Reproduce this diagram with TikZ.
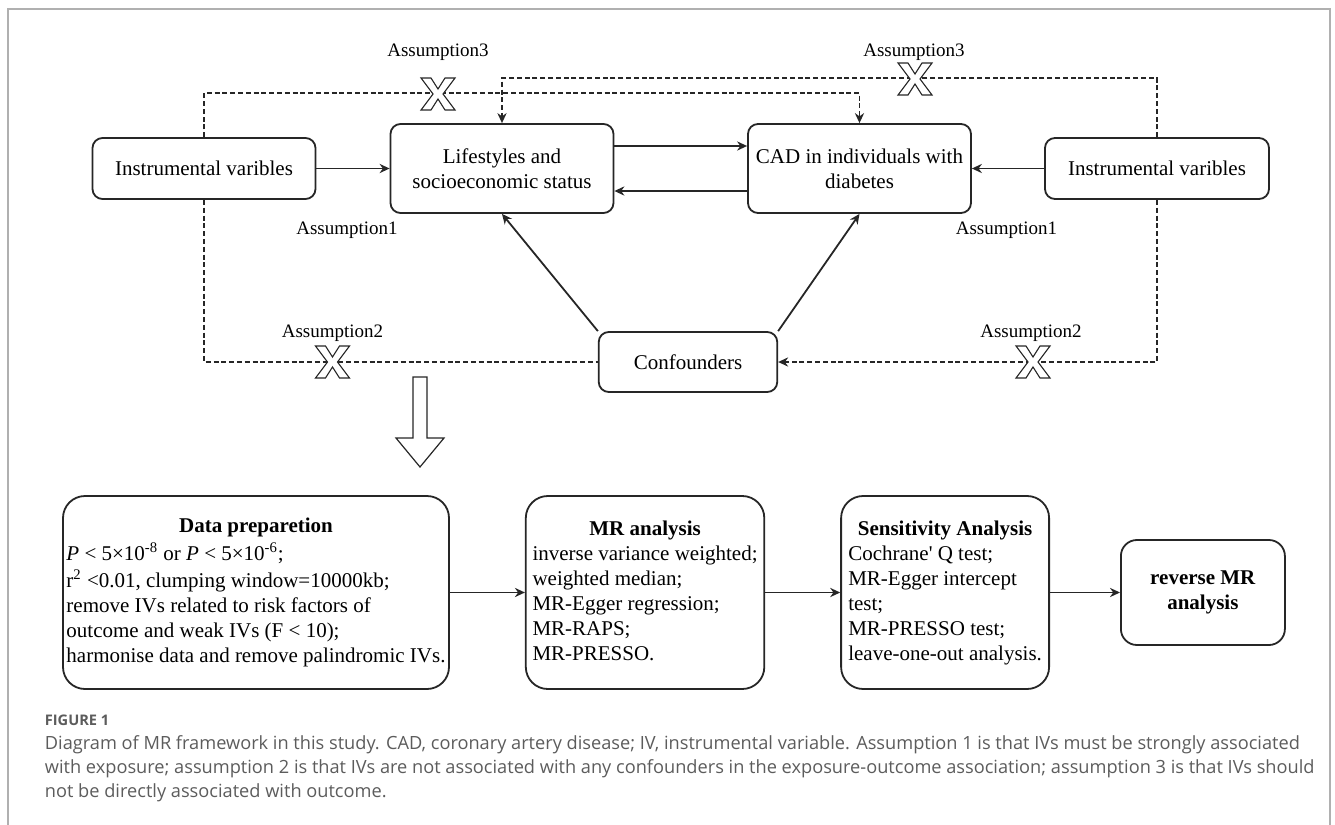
\documentclass[tikz,border=0pt]{standalone}
\usepackage{fontspec}
\setmainfont{Liberation Serif}
\newfontfamily\capfont{Open Sans}
\usepackage{xcolor}
\usepackage{tikz}
\usetikzlibrary{arrows.meta,positioning,calc}
\definecolor{capgray}{HTML}{5C5C5C}
\definecolor{framegray}{HTML}{B0B0B0}
\definecolor{inkline}{HTML}{262626}
\tikzset{xmark/.pic={\draw[fill=white, line width=0.55pt]
  (-17,-16) -- (-7,-16) -- (0,-5) -- (7,-16) -- (17,-16) -- (5,0) -- (17,16)
  -- (7,16) -- (0,5) -- (-7,16) -- (-17,16) -- (-5,0) -- cycle;}}

\begin{document}
\begin{tikzpicture}[x=0.5pt, y=-0.5pt, >={Stealth[length=5pt,width=4.6pt]},
  line width=0.9pt, draw=inkline,
  varbox/.style={draw=inkline, rounded corners=5pt, align=center, inner sep=0pt,
    font=\fontsize{10.5}{12.5}\selectfont},
  stepbox/.style={draw=inkline, rounded corners=11pt, inner sep=0pt,
    minimum height=96.5pt, font=\fontsize{10.5}{12.5}\selectfont},
  note/.style={inner sep=0pt, font=\fontsize{9.5}{11}\selectfont},
  dashline/.style={dash pattern=on 2.5pt off 1.4pt, line width=0.8pt},
  capline/.style={anchor=base west, inner sep=0pt, text=capgray,
    font=\capfont\fontsize{9.1}{12}\selectfont}]
  \useasboundingbox (0,0) rectangle (1335,825);
  \draw[framegray, line width=1pt] (8,825) -- (8,9) -- (1330,9) -- (1330,825);

  \node[varbox, minimum width=111.5pt, minimum height=30.5pt] (ivl) at (204,168.5) {Instrumental varibles};
  \node[varbox, minimum width=111.5pt, minimum height=44.5pt] (life) at (502,168.5) {Lifestyles and\\ socioeconomic status};
  \node[varbox, minimum width=111.5pt, minimum height=44.5pt] (cad) at (859.5,168.5) {CAD in individuals with\\ diabetes};
  \node[varbox, minimum width=112pt, minimum height=30.5pt] (ivr) at (1157,168.5) {Instrumental varibles};
  \node[varbox, minimum width=89.25pt, minimum height=30pt] (conf) at (688,362) {Confounders};

  \draw[->] (ivl) -- (life);
  \draw[->] ($(life.east)+(0,-22.5)$) -- ($(cad.west)+(0,-22.5)$);
  \draw[->] ($(cad.west)+(0,22.5)$) -- ($(life.east)+(0,22.5)$);
  \draw[->] (ivr) -- (cad);
  \draw[->] (conf.north west) -- (life.south);
  \draw[->] (conf.north east) -- (cad.south);

  \draw[dashline,->] (ivl.north) -- ++(0,-44) -| (cad.north);
  \draw[dashline,->] (ivr.north) -- ++(0,-59) -| (life.north);
  \draw[dashline] (ivl.south) |- (conf.west);
  \draw[dashline,->] (ivr.south) |- (conf.east);

  \pic at (438,94) {xmark};
  \pic at (915,79) {xmark};
  \pic at (332.5,362) {xmark};
  \pic at (1033,362) {xmark};

  \node[note] (a3l) at (438,52) {Assumption3};
  \node[note] (a3r) at (914,52) {Assumption3};
  \node[note] (a1l) at (347,230) {Assumption1};
  \node[note] (a1r) at (1006.5,230) {Assumption1};
  \node[note] (a2l) at (332.5,333) {Assumption2};
  \node[note] (a2r) at (1031,333) {Assumption2};

  \draw[fill=white, line width=0.6pt] (413,377) -- (427,377) -- (427,438) -- (444,438)
    -- (420,467) -- (396,438) -- (413,438) -- cycle;

  \node[stepbox, minimum width=193pt] (prep) at (256,592.5)
    {\begin{tabular}{@{}l@{}}
     \multicolumn{1}{@{}c@{}}{\textbf{Data preparetion}}\\[1.5pt]
     \textit{P} < 5×10\textsuperscript{-8} or \textit{P} < 5×10\textsuperscript{-6};\\[1pt]
     r\textsuperscript{2} <0.01, clumping window=10000kb;\\
     remove IVs related to risk factors of\\
     outcome and weak IVs (F < 10);\\
     harmonise data and remove palindromic IVs.
     \end{tabular}};
  \node[stepbox, minimum width=119.25pt, right=37.5pt of prep] (mr)
    {\begin{tabular}{@{}l@{}}
     \multicolumn{1}{@{}c@{}}{\textbf{MR analysis}}\\
     inverse variance weighted;\\
     weighted median;\\
     MR-Egger regression;\\
     MR-RAPS;\\
     MR-PRESSO.
     \end{tabular}};
  \node[stepbox, minimum width=104pt, right=37.5pt of mr] (sens)
    {\begin{tabular}{@{}l@{}}
     \multicolumn{1}{@{}c@{}}{\textbf{Sensitivity Analysis}}\\
     Cochrane\textquotesingle{} Q test;\\
     MR-Egger intercept\\
     test;\\
     MR-PRESSO test;\\
     leave-one-out analysis.
     \end{tabular}};
  \node[varbox, rounded corners=8pt, minimum width=82pt, minimum height=52.5pt, right=35pt of sens] (rev)
    {\textbf{reverse MR}\\ \textbf{analysis}};

  \draw[->] (prep) -- (mr);
  \draw[->] (mr) -- (sens);
  \draw[->] (sens) -- (rev);

  \node[capline, font=\capfont\bfseries\fontsize{7.3}{8}\selectfont] (fig) at (44,725) {FIGURE 1};
  \node[capline] (cap1) at (44,749) {Diagram of MR framework in this study. CAD, coronary artery disease; IV, instrumental variable. Assumption 1 is that IVs must be strongly associated};
  \node[capline] (cap2) at (44,773) {with exposure; assumption 2 is that IVs are not associated with any confounders in the exposure-outcome association; assumption 3 is that IVs should};
  \node[capline] (cap3) at (44,797) {not be directly associated with outcome.};
\end{tikzpicture}
\end{document}
